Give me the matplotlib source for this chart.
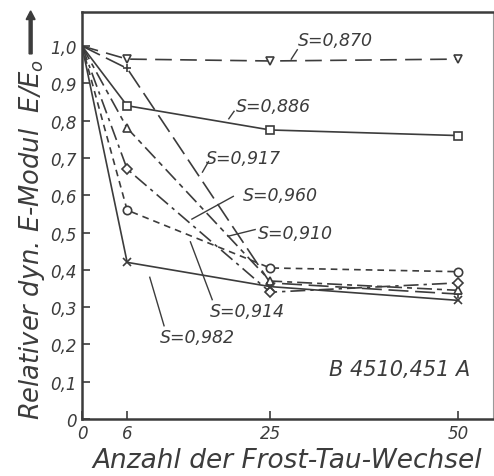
import matplotlib.pyplot as plt

# values
cycles = [0, 6, 25, 50]
s_labels = ["S=0,870", "S=0,886", "S=0,917", "S=0,910", "S=0,960", "S=0,914", "S=0,982"]
e_870 = [1.0, 0.965, 0.96, 0.965]
e_886 = [1.0, 0.84, 0.775, 0.76]
e_917 = [1.0, 0.94, 0.365, 0.335]
e_910 = [1.0, 0.78, 0.37, 0.345]
e_960 = [1.0, 0.67, 0.34, 0.365]
e_914 = [1.0, 0.56, 0.405, 0.395]
e_982 = [1.0, 0.42, 0.355, 0.318]

xticks = [0, 6, 25, 50]
yticks = [0, 0.1, 0.2, 0.3, 0.4, 0.5, 0.6, 0.7, 0.8, 0.9, 1.0]
ytick_labels = ["0", "0,1", "0,2", "0,3", "0,4", "0,5", "0,6", "0,7", "0,8", "0,9", "1,0"]

ink = "#3c3c3c"
plt.rcParams['font.family'] = 'DejaVu Sans'
plt.rcParams['font.style'] = 'italic'

fig = plt.figure(figsize=(4.94, 4.77), dpi=100)
ax = fig.add_axes([0.166, 0.1195, 0.832, 0.853])

series = [
    (e_870, "v", (0, (10, 5))),
    (e_886, "s", "-"),
    (e_917, "+", (0, (12, 4))),
    (e_910, "^", (0, (9, 3, 3, 3))),
    (e_960, "D", (0, (9, 3, 2, 3))),
    (e_914, "o", (0, (4, 3))),
    (e_982, "x", "-"),
]
for vals, mk, ls in series:
    ax.plot(cycles, vals, color=ink, lw=1.2, ls=ls)
    ax.plot(cycles[1:], vals[1:], ls="none", marker=mk, mfc="white",
            mec=ink, mew=1.2, ms=6 if mk != "D" else 5)

# labels with leader lines (text pos, leader start, leader end) in data units
notes = [
    ((28.7, 1.015), (27.8, 0.965), (28.6, 0.99)),
    ((20.4, 0.84), (19.5, 0.805), (20.2, 0.825)),
    ((16.4, 0.70), (16.0, 0.662), (16.8, 0.69)),
    ((23.4, 0.50), (19.4, 0.49), (23.0, 0.508)),
    ((21.4, 0.60), (14.6, 0.536), (20.1, 0.597)),
    ((17.0, 0.29), (14.4, 0.475), (17.3, 0.32)),
    ((10.4, 0.22), (9.0, 0.38), (10.9, 0.25)),
]
for i in range(len(notes)):
    (tx, ty), (x0, y0), (x1, y1) = notes[i]
    ax.plot([x0, x1], [y0, y1], color=ink, lw=1.0)
    ax.text(tx, ty, s_labels[i], fontsize=12.5, color=ink, va="center", ha="left")

ax.text(32.8, 0.135, "B 4510,451 A", fontsize=15, color=ink, va="center", ha="left")

ax.set_xlim(0, 54.6)
ax.set_ylim(0, 1.091)
ax.set_xticks(xticks)
ax.set_yticks(yticks)
ax.set_yticklabels(ytick_labels)
ax.tick_params(direction="in", length=6, width=1.2, colors=ink, labelsize=12)
for sp in ax.spines.values():
    sp.set_color(ink)
    sp.set_linewidth(1.8)
ax.spines["right"].set_linewidth(0.8)
ax.spines["right"].set_color("#9a9a9a")

ax.set_xlabel("Anzahl der Frost-Tau-Wechsel", fontsize=19, color=ink, labelpad=4)
ax.set_ylabel(r"Relativer dyn. E-Modul  $E/E_\mathrm{o}$", fontsize=18.5, color=ink)
ax.yaxis.set_label_coords(-0.085, 0.445)
fig.patches.append(plt.Arrow(0.062, 0.885, 0, 0.09, width=0.03, color=ink, transform=fig.transFigure))

fig.savefig("out.png", dpi=100)
